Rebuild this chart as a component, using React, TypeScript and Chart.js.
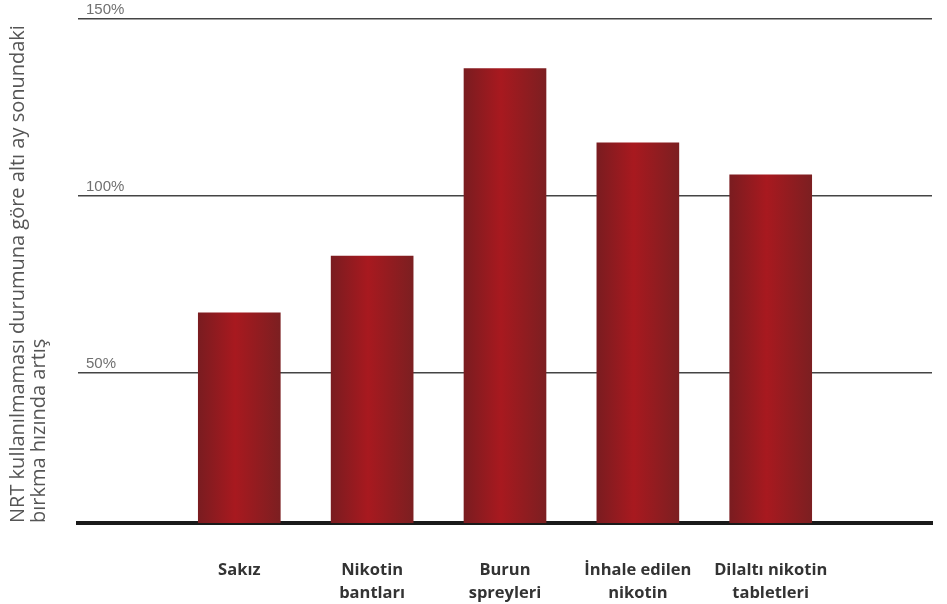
import React, { useEffect, useRef } from "react";
import { Chart, registerables } from "chart.js";

Chart.register(...registerables);

const categories: string[][] = [
  ["Sakız"],
  ["Nikotin", "bantları"],
  ["Burun", "spreyleri"],
  ["İnhale edilen", "nikotin"],
  ["Dilaltı nikotin", "tabletleri"],
];
const values: number[] = [67, 83, 136, 115, 106];
const yTicks: number[] = [50, 100, 150];
const yTitle: string[] = [
  "NRT kullanılmaması durumuna göre altı ay sonundaki",
  "bırkma hızında artış",
];

export default function App() {
  const ref = useRef<HTMLCanvasElement>(null);
  useEffect(() => {
    document.body.style.margin = "0";
    const BAR = 82;
    const chart = new Chart(ref.current!, {
      type: "bar",
      data: {
        datasets: [
          {
            data: values.map((v, i) => ({ x: i, y: v })),
            barThickness: BAR,
            backgroundColor: (ctx: any) => {
              const c = ctx.chart;
              const xs = c.scales && c.scales.x;
              if (!xs || ctx.dataIndex === undefined) return "#9a1c21";
              const px = xs.getPixelForValue(ctx.dataIndex);
              if (!isFinite(px)) return "#9a1c21";
              const g = c.ctx.createLinearGradient(px - BAR / 2, 0, px + BAR / 2, 0);
              g.addColorStop(0, "#7a1c20");
              g.addColorStop(0.45, "#a8191f");
              g.addColorStop(1, "#7c1f21");
              return g;
            },
            borderWidth: 0,
          },
        ],
      },
      options: {
        animation: false,
        responsive: false,
        maintainAspectRatio: false,
        layout: { padding: { left: 7, right: 15, top: 19, bottom: 0 } },
        plugins: { legend: { display: false }, tooltip: { enabled: false } },
        scales: {
          x: {
            type: "linear",
            offset: false,
            min: -1.214,
            max: 5.214,
            z: 1,
            afterBuildTicks: (s: any) => {
              s.ticks = categories.map((_, i) => ({ value: i }));
            },
            afterFit: (s: any) => {
              s.height = 81;
            },
            grid: { display: false, drawTicks: false, offset: false },
            border: { display: true, color: "#1a1a1a", width: 4 },
            ticks: {
              autoSkip: false,
              maxRotation: 0,
              padding: 36,
              color: "#333333",
              font: { family: "Open Sans", size: 16.5, weight: "bold", lineHeight: 1.4 },
              callback: (v: any) => categories[v as number] ?? "",
            },
          },
          y: {
            min: 7.6,
            max: 150,
            afterBuildTicks: (s: any) => {
              s.ticks = yTicks.map((v) => ({ value: v }));
            },
            afterFit: (s: any) => {
              s.width = 71;
            },
            grid: { color: "#444444", lineWidth: 1.6, drawTicks: false },
            border: { display: false },
            ticks: {
              mirror: true,
              padding: 8,
              labelOffset: -9,
              color: "#707070",
              font: { family: "Liberation Sans", size: 15 },
              callback: (v: any) => v + "%",
            },
            title: {
              display: true,
              text: yTitle,
              align: "start",
              color: "#555555",
              font: { family: "Open Sans", size: 20, lineHeight: 1.08 },
              padding: { top: 0, bottom: 0 },
            },
          },
        },
      },
    } as any);
    return () => chart.destroy();
  }, []);
  return (
    <div style={{ width: 947, height: 604 }}>
      <canvas ref={ref} width={947} height={604} />
    </div>
  );
}
